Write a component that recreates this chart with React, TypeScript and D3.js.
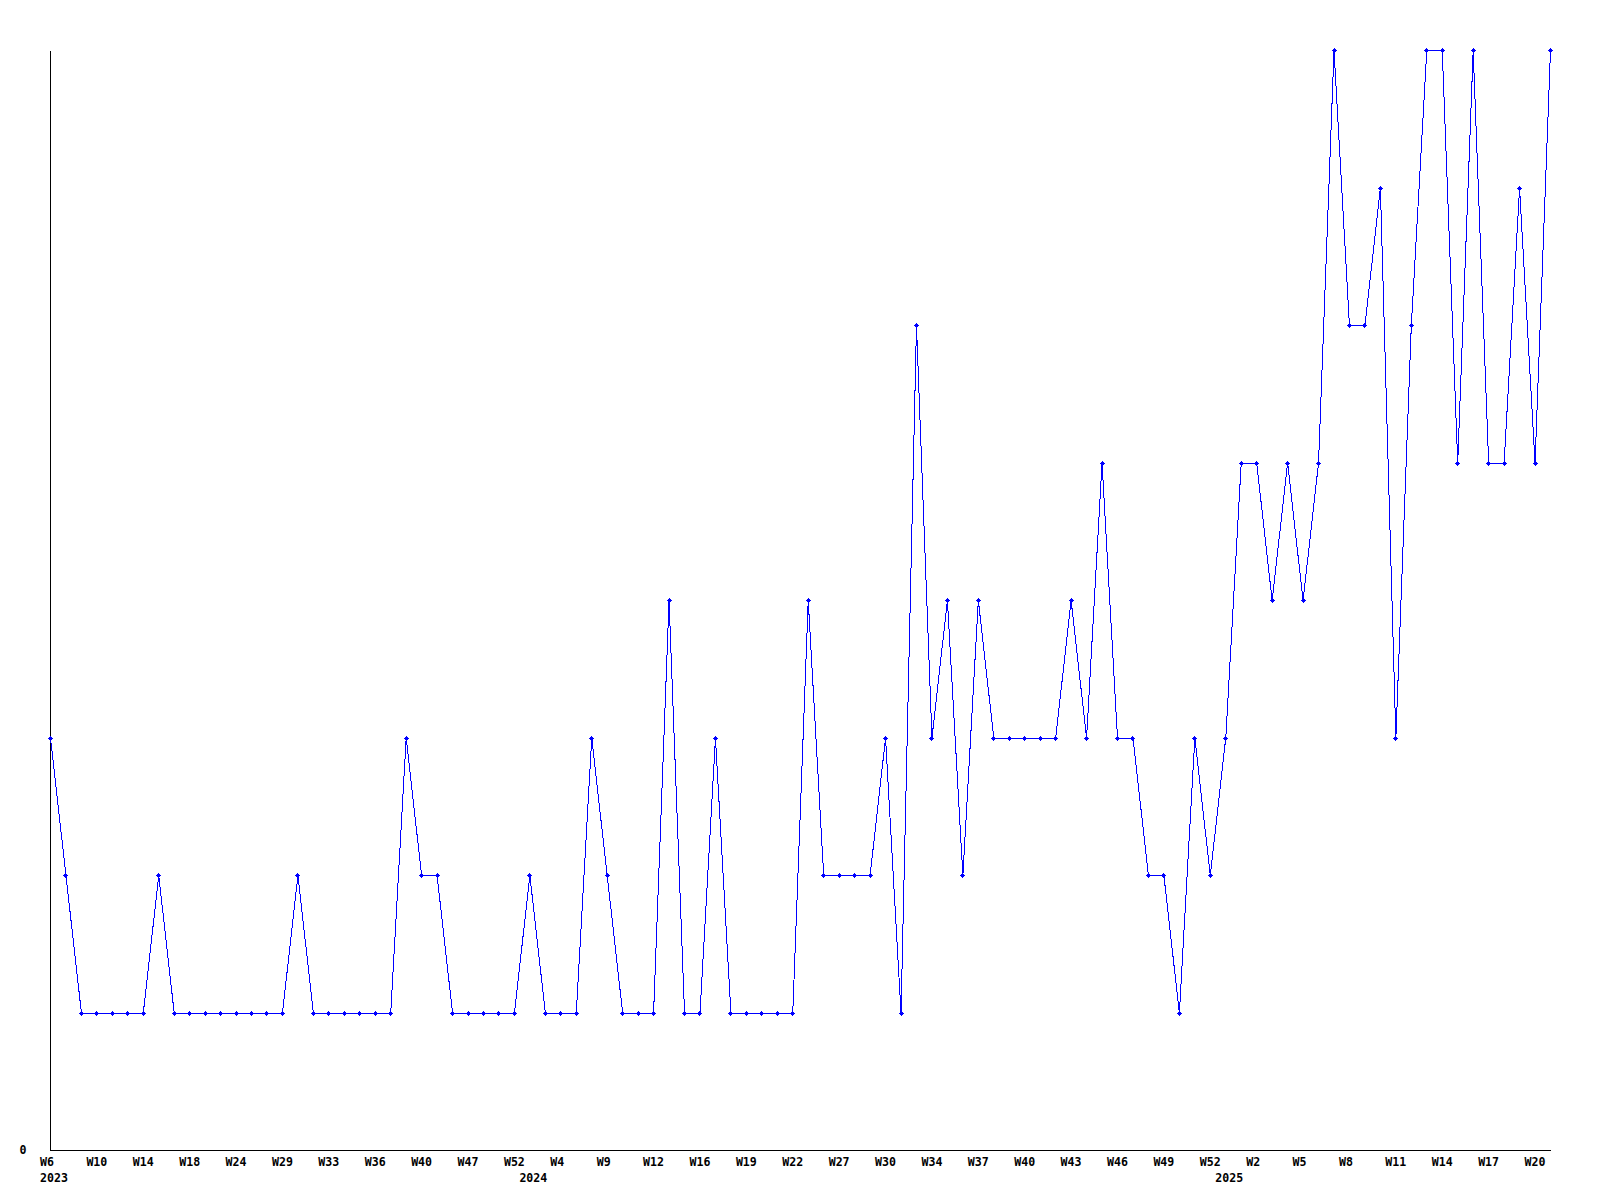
import React from "react";
import * as d3 from "d3";

// Category weeks (98 weekly buckets); labels shown every 3rd bucket
const weeks: string[] = [
  "W6","W7","W9","W10","W11","W13","W14","W15","W16","W18",
  "W20","W22","W24","W26","W27","W29","W30","W32","W33","W34",
  "W35","W36","W38","W39","W40","W42","W45","W47","W49","W51",
  "W52","W0","W2","W4","W6","W8","W9","W10","W11","W12",
  "W14","W15","W16","W17","W18","W19","W20","W21","W22","W24",
  "W25","W27","W28","W29","W30","W31","W33","W34","W35","W36",
  "W37","W38","W39","W40","W41","W42","W43","W44","W45","W46",
  "W47","W48","W49","W50","W51","W52","W0","W1","W2","W3",
  "W4","W5","W6","W7","W8","W9","W10","W11","W12","W13",
  "W14","W15","W16","W17","W18","W19","W20","W21",
];

// Year each bucket belongs to
const years: number[] = [
  ...Array(31).fill(2023),
  ...Array(45).fill(2024),
  ...Array(22).fill(2025),
];

// Series values
const counts: number[] = [
  3,2,1,1,1,1,1,2,1,1,
  1,1,1,1,1,1,2,1,1,1,
  1,1,1,3,2,2,1,1,1,1,
  1,2,1,1,1,3,2,1,1,1,
  4,1,1,3,1,1,1,1,1,4,
  2,2,2,2,3,1,6,3,4,2,
  4,3,3,3,3,3,4,3,5,3,
  3,2,2,1,3,2,3,5,5,4,
  5,4,5,8,6,6,7,3,6,8,
  8,5,8,5,5,7,5,8,
];

const yTicks: number[] = [0];
const yMax = 8;

const FONT = "'DejaVu Sans Mono', monospace";

export default function App() {
  const W = 1600, H = 1200;
  const left = 50.5, right = 1550.5, top = 50.5, bottom = 1150.5;
  const idx = counts.map((_, i) => i);
  const x = d3.scalePoint<number>().domain(idx).range([left, right]);
  const y = d3.scaleLinear().domain([0, yMax]).range([bottom, top]);

  const line = d3
    .line<number>()
    .x((_, i) => x(i)!)
    .y((d) => y(d));
  // small plus-with-thick-centre marker
  const marker =
    "M-1.5,-1.5H1.5V1.5H-1.5Z M-2.5,-0.5H2.5V0.5H-2.5Z M-0.5,-2.5H0.5V2.5H-0.5Z";

  const yearStarts = years
    .map((yr, i) => ({ yr, i }))
    .filter((d) => d.i === 0 || years[d.i - 1] !== d.yr);

  return (
    <svg
      width={W}
      height={H}
      style={{ position: "absolute", left: 0, top: 0, background: "#fff" }}
    >
      <rect x={0} y={0} width={W} height={H} fill="#fff" />
      {/* axes */}
      <line x1={left} x2={left} y1={top} y2={bottom} stroke="#000" strokeWidth={1} shapeRendering="crispEdges" />
      <line x1={left} x2={right} y1={bottom} y2={bottom} stroke="#000" strokeWidth={1} shapeRendering="crispEdges" />
      {yTicks.map((t) => (
        <text key={t} x={23} y={y(t) + 3} fontFamily={FONT} fontWeight="bold" fontSize={11.6} textAnchor="middle" fill="#000">
          {t}
        </text>
      ))}
      {/* week tick labels */}
      {weeks.map((w, i) =>
        i % 3 === 0 ? (
          <text key={"w" + i} x={x(i)! - 10.5} y={1165.5} fontFamily={FONT} fontWeight="bold" fontSize={11.6} fill="#000">
            {w}
          </text>
        ) : null
      )}
      {yearStarts.map((d) => (
        <text key={"y" + d.yr} x={x(d.i)! - 10.5} y={1182} fontFamily={FONT} fontWeight="bold" fontSize={11.6} fill="#000">
          {d.yr}
        </text>
      ))}
      {/* series */}
      <path d={line(counts) || ""} fill="none" stroke="#0000ff" strokeWidth={1} shapeRendering="crispEdges" />
      {counts.map((v, i) => (
        <path key={"m" + i} d={marker} transform={`translate(${x(i)},${y(v)})`} fill="#0000ff" shapeRendering="crispEdges" />
      ))}
    </svg>
  );
}
